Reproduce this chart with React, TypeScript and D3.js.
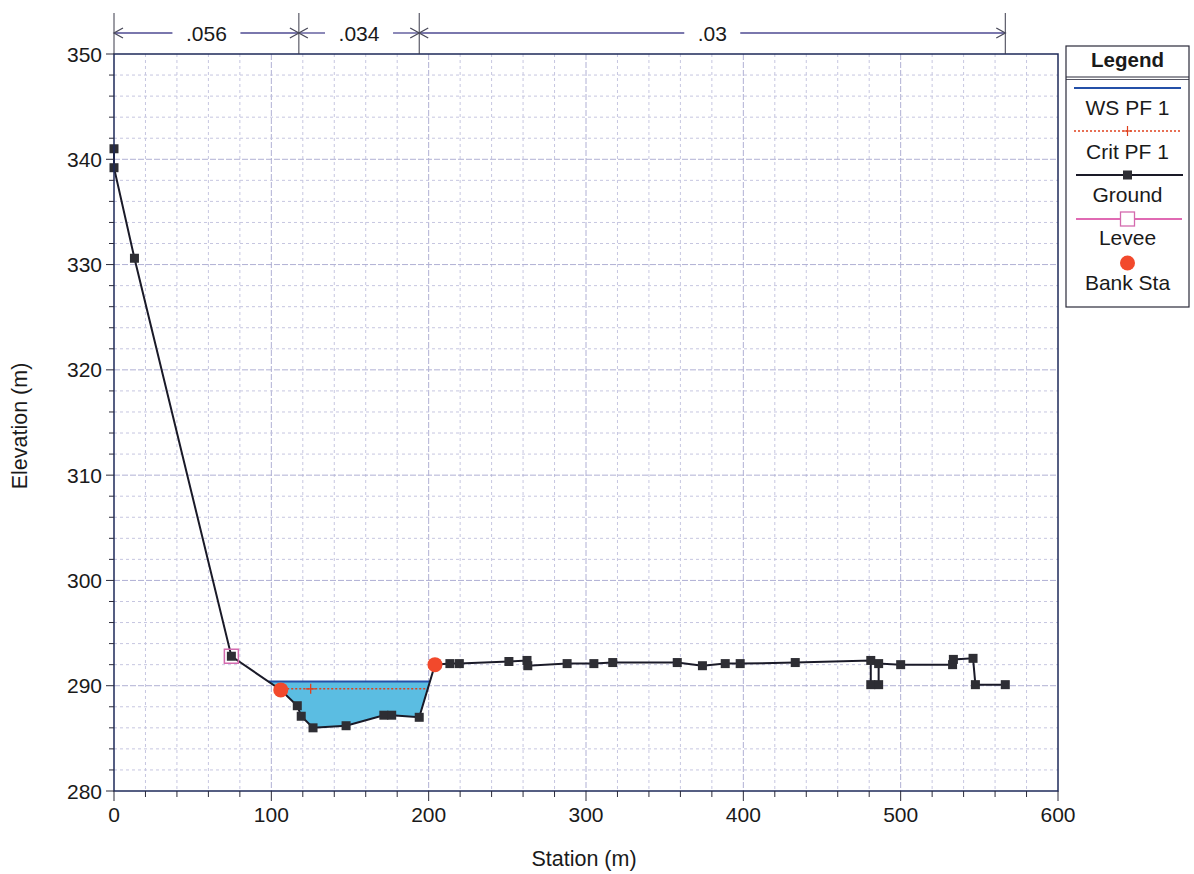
import React from "react";
import * as d3 from "d3";

// ---- data ----
const groundStation = [0, 0, 13, 74.6, 106, 116.5, 119, 126.5, 147.5, 171.5, 176.5, 194, 204, 213.5, 219.5, 251, 262.5, 263, 288, 305, 317, 358, 374, 388.5, 398, 433, 481, 481, 486, 486, 500, 533, 533.5, 546, 547.5, 566.5];
const groundElev = [341, 339.2, 330.6, 292.8, 289.6, 288.1, 287.1, 286.0, 286.2, 287.2, 287.2, 287.0, 292.0, 292.1, 292.1, 292.3, 292.4, 291.9, 292.1, 292.1, 292.2, 292.2, 291.9, 292.1, 292.1, 292.2, 292.4, 290.1, 290.1, 292.1, 292.0, 292.0, 292.5, 292.6, 290.1, 290.1];
const wsElev = 290.4;
const critElev = 289.7;
const critMarkerStation = [125];
const leveeStation = [74.6];
const leveeElev = [292.8];
const bankStation = [106, 204];
const bankElev = [289.6, 292.0];
const nBreaks = [0, 117.5, 194, 566.5];
const nLabels = [".056", ".034", ".03"];
const xTicks = [0, 100, 200, 300, 400, 500, 600];
const yTicks = [280, 290, 300, 310, 320, 330, 340, 350];
const legendItems = ["WS PF 1", "Crit PF 1", "Ground", "Levee", "Bank Sta"];

const FONT = "Liberation Sans, Arial, sans-serif";

function crossings(level: number, i0: number, i1: number) {
  const pts: [number, number][] = [];
  let left: [number, number] | null = null;
  let right: [number, number] | null = null;
  for (let i = i0; i < i1; i++) {
    const s0 = groundStation[i], e0 = groundElev[i], s1 = groundStation[i + 1], e1 = groundElev[i + 1];
    if (e0 >= level && e1 < level && !left) {
      const t = (e0 - level) / (e0 - e1);
      left = [s0 + t * (s1 - s0), level];
    }
    if (e0 < level && e1 >= level) {
      const t = (level - e0) / (e1 - e0);
      right = [s0 + t * (s1 - s0), level];
    }
  }
  if (!left || !right) return { poly: pts, left: [0, 0], right: [0, 0] };
  pts.push(left);
  for (let i = i0; i <= i1; i++) {
    if (groundStation[i] > left[0] && groundStation[i] < right[0]) pts.push([groundStation[i], groundElev[i]]);
  }
  pts.push(right);
  return { poly: pts, left, right };
}

export default function App() {
  const x = d3.scaleLinear().domain([0, 600]).range([114, 1058]);
  const y = d3.scaleLinear().domain([280, 350]).range([791, 54]);
  const [x0, x1] = x.range();
  const [yb, yt] = y.range();

  const vGrid = d3.range(20, 600, 20);
  const hGrid = d3.range(282, 350, 2);
  const xMinor = d3.range(0, 601, 20);
  const yMinor = d3.range(280, 351, 2);

  const ground = groundStation.map((s, i) => [s, groundElev[i]] as [number, number]);
  const line = d3.line<[number, number]>().x((d) => x(d[0])).y((d) => y(d[1]));

  const ws = crossings(wsElev, 3, 12);
  const crit = crossings(critElev, 3, 12);

  const nLineY = 33;
  const arrowCol = "#4e4a92";
  const arrow = (px: number, dir: number) =>
    `M${px + dir * 9},${nLineY - 5} L${px},${nLineY} L${px + dir * 9},${nLineY + 5}`;

  const lgX0 = 1066, lgX1 = 1189;
  const lgCx = (lgX0 + lgX1) / 2;
  const lgLineY = [88, 131, 175, 219, 263];
  const lgLabelY = [115, 159, 202, 245, 290];

  return (
    <svg width={1194} height={874} style={{ position: "absolute", left: 0, top: 0, background: "#fff" }} fontFamily={FONT}>
      <rect width={1194} height={874} fill="#fff" />
      {vGrid.map((v) => (
        <line key={"vg" + v} x1={x(v)} x2={x(v)} y1={yt} y2={yb} stroke={v % 100 === 0 ? "#b0b0d4" : "#c6c6e0"} strokeWidth={1} strokeDasharray={v % 100 === 0 ? "6,2" : "3,3"} />
      ))}
      {hGrid.map((v) => (
        <line key={"hg" + v} x1={x0} x2={x1} y1={y(v)} y2={y(v)} stroke={v % 10 === 0 ? "#b0b0d4" : "#c6c6e0"} strokeWidth={1} strokeDasharray={v % 10 === 0 ? "6,2" : "3,3"} />
      ))}

      <path d={line(ws.poly)! + "Z"} fill="#5bbde2" stroke="none" />
      <line x1={x(ws.left[0])} x2={x(ws.right[0])} y1={y(wsElev)} y2={y(wsElev)} stroke="#2450a8" strokeWidth={2} />
      <line x1={x(crit.left[0])} x2={x(crit.right[0])} y1={y(critElev)} y2={y(critElev)} stroke="#e0401c" strokeWidth={1.5} strokeDasharray="2,2" />
      {critMarkerStation.map((s) => (
        <g key={"cm" + s} stroke="#e0401c" strokeWidth={1.3}>
          <line x1={x(s) - 5} x2={x(s) + 5} y1={y(critElev)} y2={y(critElev)} />
          <line x1={x(s)} x2={x(s)} y1={y(critElev) - 5} y2={y(critElev) + 5} />
        </g>
      ))}

      <path d={line(ground)!} fill="none" stroke="#1a1a28" strokeWidth={2} />
      {ground.map((d, i) => (
        <rect key={"g" + i} x={x(d[0]) - 4.5} y={y(d[1]) - 4.5} width={9} height={9} fill="#2e2e34" />
      ))}
      {leveeStation.map((s, i) => (
        <rect key={"lv" + i} x={x(s) - 7} y={y(leveeElev[i]) - 7} width={14} height={14} fill="none" stroke="#d46aae" strokeWidth={1.5} />
      ))}
      {bankStation.map((s, i) => (
        <circle key={"bk" + i} cx={x(s)} cy={y(bankElev[i])} r={7.5} fill="#f2492c" />
      ))}

      <rect x={x0} y={yt} width={x1 - x0} height={yb - yt} fill="none" stroke="#1e2a5a" strokeWidth={1.5} />

      {yMinor.map((v) => (
        <line key={"ym" + v} x1={x0 - (v % 10 === 0 ? 8 : 5)} x2={x0} y1={y(v)} y2={y(v)} stroke="#2a2a3a" strokeWidth={1} />
      ))}
      {yTicks.map((v) => (
        <text key={"yt" + v} x={x0 - 12} y={y(v) + 7.5} textAnchor="end" fontSize={21} fill="#1a1a1a">{v}</text>
      ))}
      {xMinor.map((v) => (
        <line key={"xm" + v} x1={x(v)} x2={x(v)} y1={yb} y2={yb + (v % 100 === 0 ? 10 : 6)} stroke="#2a2a3a" strokeWidth={1} />
      ))}
      {xTicks.map((v) => (
        <text key={"xt" + v} x={x(v)} y={yb + 31} textAnchor="middle" fontSize={21} fill="#1a1a1a">{v}</text>
      ))}
      <text x={x(300) - 2} y={866} textAnchor="middle" fontSize={21.5} fill="#1a1a1a">Station (m)</text>
      <text transform={`translate(27,426) rotate(-90)`} textAnchor="middle" fontSize={21.5} fill="#1a1a1a">Elevation (m)</text>

      {nBreaks.map((b, i) => (
        <line key={"nb" + i} x1={x(b)} x2={x(b)} y1={13} y2={yt} stroke="#3a3a4a" strokeWidth={1} />
      ))}
      {nLabels.map((lab, i) => {
        const a = x(nBreaks[i]);
        const b = x(nBreaks[i + 1]);
        const c = (a + b) / 2;
        const half = lab.length * 6 + 10;
        return (
          <g key={"nl" + i}>
            <line x1={a} x2={c - half} y1={nLineY} y2={nLineY} stroke={arrowCol} strokeWidth={1.3} />
            <line x1={c + half} x2={b} y1={nLineY} y2={nLineY} stroke={arrowCol} strokeWidth={1.3} />
            <path d={arrow(a, 1)} fill="none" stroke="#4a4a5a" strokeWidth={1.3} />
            <path d={arrow(b, -1)} fill="none" stroke="#4a4a5a" strokeWidth={1.3} />
            <text x={c} y={nLineY + 8} textAnchor="middle" fontSize={21} fill="#1a1a1a">{lab}</text>
          </g>
        );
      })}

      <rect x={lgX0} y={46} width={lgX1 - lgX0} height={261} fill="#fff" stroke="#2a2a3a" strokeWidth={1.2} />
      <text x={lgCx} y={67} textAnchor="middle" fontSize={20.5} fontWeight="bold" fill="#1a1a1a">Legend</text>
      <line x1={lgX0} x2={lgX1} y1={77} y2={77} stroke="#2a2a3a" strokeWidth={1.2} />
      <line x1={lgX0} x2={lgX1} y1={79.5} y2={79.5} stroke="#2a2a3a" strokeWidth={0.8} />
      <line x1={1074} x2={1181} y1={lgLineY[0]} y2={lgLineY[0]} stroke="#2450a8" strokeWidth={2} />
      <line x1={1074} x2={1181} y1={lgLineY[1]} y2={lgLineY[1]} stroke="#e0401c" strokeWidth={1.5} strokeDasharray="2,2" />
      <g stroke="#e0401c" strokeWidth={1.2}>
        <line x1={lgCx - 4} x2={lgCx + 4} y1={lgLineY[1]} y2={lgLineY[1]} />
        <line x1={lgCx} x2={lgCx} y1={lgLineY[1] - 5} y2={lgLineY[1] + 5} />
      </g>
      <line x1={1076} x2={1183} y1={lgLineY[2]} y2={lgLineY[2]} stroke="#1a1a28" strokeWidth={2} />
      <rect x={lgCx - 4.5} y={lgLineY[2] - 4.5} width={9} height={9} fill="#2e2e34" />
      <line x1={1076} x2={1182} y1={lgLineY[3]} y2={lgLineY[3]} stroke="#d6389a" strokeWidth={1.5} />
      <rect x={lgCx - 7} y={lgLineY[3] - 7} width={14} height={14} fill="#fff" stroke="#d46aae" strokeWidth={1.3} />
      <circle cx={lgCx} cy={lgLineY[4]} r={7.5} fill="#f2492c" />
      {legendItems.map((t, i) => (
        <text key={"lg" + i} x={lgCx} y={lgLabelY[i]} textAnchor="middle" fontSize={21} fill="#1a1a1a">{t}</text>
      ))}
    </svg>
  );
}
